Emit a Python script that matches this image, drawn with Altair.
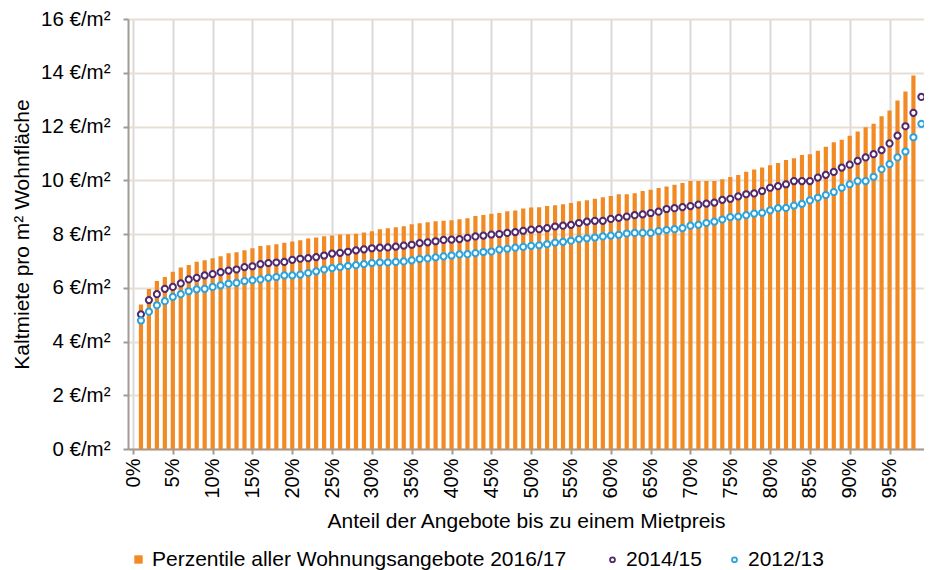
import altair as alt
import pandas as pd

BAR_NAME = "Perzentile aller Wohnungsangebote 2016/17"
NAME_2014 = "2014/15"
NAME_2012 = "2012/13"

pct_bars = list(range(1, 99))
rent_2016 = [
    5.38, 5.95, 6.25, 6.40, 6.60, 6.75, 6.85, 6.97, 7.02, 7.10, 7.17, 7.28, 7.32, 7.40, 7.47, 7.55,
    7.58, 7.62, 7.67, 7.72, 7.77, 7.83, 7.87, 7.92,
    7.94, 7.98, 7.99, 8.01, 8.06, 8.10, 8.18, 8.21, 8.25, 8.29, 8.36, 8.40, 8.44, 8.47, 8.49, 8.51,
    8.55, 8.59, 8.67, 8.71, 8.75, 8.78, 8.85, 8.87,
    8.95, 8.99, 9.00, 9.04, 9.07, 9.11, 9.15, 9.22, 9.26, 9.31, 9.37, 9.41, 9.48, 9.48, 9.52, 9.60,
    9.65, 9.71, 9.77, 9.83, 9.90, 9.97, 9.97, 9.97, 9.97,
    10.04, 10.12, 10.20, 10.32, 10.40, 10.47, 10.56, 10.64, 10.75, 10.82, 10.94, 10.97, 11.10, 11.25,
    11.41, 11.51, 11.66, 11.81, 11.97, 12.10, 12.38, 12.60, 12.97, 13.30, 13.90,
]

pct_lines = list(range(1, 100))
rent_2014 = [
    5.01, 5.54, 5.76, 5.96, 6.03, 6.16, 6.31, 6.37, 6.46, 6.51, 6.58, 6.64, 6.68, 6.77, 6.80, 6.88,
    6.92, 6.94, 6.96, 7.04, 7.08, 7.10, 7.14, 7.20,
    7.27, 7.30, 7.34, 7.39, 7.43, 7.47, 7.49, 7.50, 7.53, 7.57, 7.60, 7.66, 7.69, 7.73, 7.78, 7.79,
    7.81, 7.86, 7.91, 7.94, 7.98, 8.00, 8.04, 8.07,
    8.12, 8.16, 8.18, 8.22, 8.28, 8.31, 8.34, 8.41, 8.46, 8.49, 8.49, 8.56, 8.60, 8.65, 8.70, 8.73,
    8.78, 8.83, 8.93, 8.96, 9.00, 9.04, 9.09, 9.13, 9.17,
    9.27, 9.31, 9.40, 9.48, 9.51, 9.60, 9.72, 9.78, 9.85, 9.97, 9.97, 9.97, 10.10, 10.20, 10.31,
    10.47, 10.58, 10.72, 10.85, 10.97, 11.12, 11.37, 11.66, 12.01, 12.51, 13.10,
]
rent_2012 = [
    4.78, 5.11, 5.35, 5.50, 5.66, 5.76, 5.87, 5.94, 5.96, 6.03, 6.09, 6.15, 6.18, 6.25, 6.28, 6.31,
    6.37, 6.40, 6.46, 6.46, 6.49, 6.55, 6.61, 6.68,
    6.73, 6.77, 6.81, 6.84, 6.88, 6.92, 6.94, 6.94, 6.96, 6.98, 7.02, 7.07, 7.09, 7.13, 7.17, 7.20,
    7.24, 7.25, 7.29, 7.33, 7.35, 7.42, 7.45, 7.49,
    7.52, 7.56, 7.58, 7.62, 7.68, 7.71, 7.75, 7.81, 7.84, 7.87, 7.91, 7.94, 7.97, 8.02, 8.04, 8.04,
    8.04, 8.11, 8.15, 8.18, 8.22, 8.31, 8.34, 8.41, 8.46,
    8.54, 8.63, 8.65, 8.70, 8.76, 8.79, 8.88, 8.96, 8.97, 9.06, 9.12, 9.25, 9.35, 9.45, 9.56, 9.72,
    9.85, 9.97, 9.97, 10.13, 10.41, 10.60, 10.85, 11.07, 11.60, 12.10,
]

x_ticks = list(range(0, 100, 5))
y_ticks = list(range(0, 17, 2))

FONT = "Liberation Sans"
ORANGE = "#F28A24"
PURPLE = "#4E2A6E"
BLUE = "#2BA3DD"
AXIS_COL = "#A39B93"

bars_df = pd.DataFrame({"p": pct_bars, "v": rent_2016, "s": BAR_NAME})
pts_df = pd.concat([
    pd.DataFrame({"p": pct_lines, "v": rent_2014, "s": NAME_2014}),
    pd.DataFrame({"p": pct_lines, "v": rent_2012, "s": NAME_2012}),
])

xscale = alt.Scale(domain=[0, 98.7], nice=False, zero=False)
yscale = alt.Scale(domain=[0, 16], nice=False)

x_axis = alt.Axis(
    values=x_ticks, labelExpr="datum.value + '%'", labelAngle=-90,
    title="Anteil der Angebote bis zu einem Mietpreis",
    grid=True, gridColor="#DADADA", gridWidth=2,
    domainColor=AXIS_COL, domainWidth=2, tickColor=AXIS_COL, tickWidth=2, tickSize=5,
    labelPadding=4, labelFlush=False, labelOverlap=False, labelBound=False,
    labelFont=FONT, labelFontSize=20, labelColor="#000000",
    titleFont=FONT, titleFontSize=21, titleFontWeight="normal", titleColor="#000000",
    titlePadding=12,
)
y_axis = alt.Axis(
    values=y_ticks, labelExpr="datum.value + ' €/m²'",
    title="Kaltmiete pro m² Wohnfläche",
    grid=True, gridColor="#E6DDD4", gridWidth=2,
    domainColor=AXIS_COL, domainWidth=2, tickColor=AXIS_COL, tickWidth=2, tickSize=5,
    labelPadding=13, labelFlush=False, labelOverlap=False,
    labelFont=FONT, labelFontSize=20.5, labelColor="#000000",
    titleFont=FONT, titleFontSize=21, titleFontWeight="normal", titleColor="#000000",
    titlePadding=8,
)

bar_legend = alt.Legend(
    orient="none", legendX=0, legendY=530, title=None, direction="horizontal",
    symbolType="square", symbolSize=70, symbolStrokeWidth=0, labelLimit=0,
    labelFont=FONT, labelFontSize=21, labelColor="#000000", labelOffset=3,
)
pt_legend = alt.Legend(
    orient="none", legendX=474, legendY=530, title=None, direction="horizontal",
    symbolType="circle", symbolSize=24, symbolStrokeWidth=1.8, symbolFillColor="white",
    labelLimit=0, labelFont=FONT, labelFontSize=21, labelColor="#000000", labelOffset=3,
    columnPadding=22,
)

bars = alt.Chart(bars_df).mark_bar(size=4.2, clip=True).encode(
    x=alt.X("p:Q", scale=xscale, axis=x_axis),
    y=alt.Y("v:Q", scale=yscale, axis=y_axis),
    fill=alt.Fill("s:N", scale=alt.Scale(domain=[BAR_NAME], range=[ORANGE]), legend=bar_legend),
)

points = alt.Chart(pts_df).mark_point(
    shape="circle", filled=False, fill="white", size=38, strokeWidth=2, opacity=1, clip=True
).encode(
    x=alt.X("p:Q", scale=xscale, axis=x_axis),
    y=alt.Y("v:Q", scale=yscale, axis=y_axis),
    stroke=alt.Stroke("s:N", scale=alt.Scale(domain=[NAME_2014, NAME_2012], range=[PURPLE, BLUE]),
                      legend=pt_legend, sort=[NAME_2014, NAME_2012]),
    order=alt.Order("s:N", sort="descending"),
)

chart = alt.layer(bars, points).properties(
    width=796, height=430,
    autosize=alt.AutoSizeParams(type="none"),
    padding={"left": 120, "top": 11, "right": 0, "bottom": 121},
).configure_view(stroke=None).configure(font=FONT, background="white")

chart.save("out.html", embed_options={"renderer": "svg", "actions": False})
